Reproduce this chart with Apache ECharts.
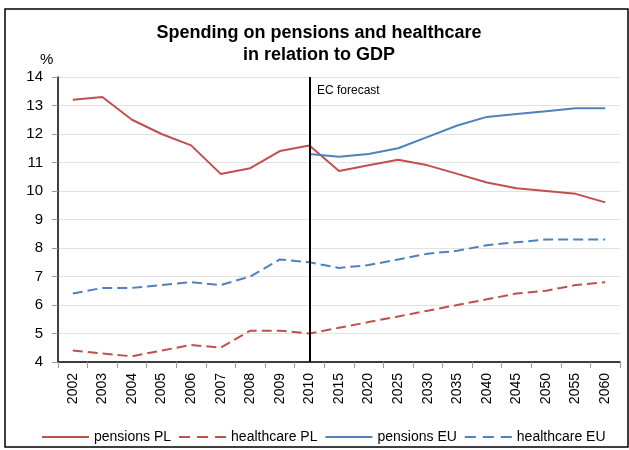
<!DOCTYPE html>
<html>
<head>
<meta charset="utf-8">
<script src="https://cdn.jsdelivr.net/npm/echarts@6/dist/echarts.min.js"></script>
<style>
  html, body { margin: 0; padding: 0; background: #fff; }
  #chart { width: 629px; height: 450px; }
</style>
</head>
<body>
<div id="chart"></div>
<script>
// Years on the category axis (annual to 2010, then five-year forecast steps)
const years = ['2002','2003','2004','2005','2006','2007','2008','2009','2010',
               '2015','2020','2025','2030','2035','2040','2045','2050','2055','2060'];

// Spending as % of GDP
const pensionsPL   = [13.2, 13.3, 12.5, 12.0, 11.6, 10.6, 10.8, 11.4, 11.6,
                      10.7, 10.9, 11.1, 10.9, 10.6, 10.3, 10.1, 10.0, 9.9, 9.6];
const healthcarePL = [4.4, 4.3, 4.2, 4.4, 4.6, 4.5, 5.1, 5.1, 5.0,
                      5.2, 5.4, 5.6, 5.8, 6.0, 6.2, 6.4, 6.5, 6.7, 6.8];
const pensionsEU   = [null, null, null, null, null, null, null, null, 11.3,
                      11.2, 11.3, 11.5, 11.9, 12.3, 12.6, 12.7, 12.8, 12.9, 12.9];
const healthcareEU = [6.4, 6.6, 6.6, 6.7, 6.8, 6.7, 7.0, 7.6, 7.5,
                      7.3, 7.4, 7.6, 7.8, 7.9, 8.1, 8.2, 8.3, 8.3, 8.3];

const yTicks = { min: 4, max: 14, interval: 1 };
const forecastStart = '2010';

const RED = '#C0504D';
const BLUE = '#4F81BD';
const FONT = '"Liberation Sans", Arial, sans-serif';

function lineSeries(name, data, color, dashed, extra) {
  return Object.assign({
    name: name,
    type: 'line',
    data: data,
    symbol: 'none',
    showSymbol: false,
    connectNulls: false,
    animation: false,
    lineStyle: { color: color, width: 2, type: dashed ? [10, 5] : 'solid' },
    itemStyle: { color: color }
  }, extra || {});
}

const chart = echarts.init(document.getElementById('chart'), null, { renderer: 'canvas' });

chart.setOption({
  backgroundColor: '#fff',
  animation: false,
  title: {
    text: 'Spending on pensions and healthcare\nin relation to GDP',
    left: 319,
    textAlign: 'center',
    top: 22,
    padding: 0,
    textStyle: { fontFamily: FONT, fontSize: 18, fontWeight: 'bold', color: '#000', lineHeight: 22 }
  },
  grid: { left: 58, right: 9, top: 77, bottom: 88, containLabel: false },
  xAxis: {
    type: 'category',
    data: years,
    boundaryGap: true,
    axisLine: { lineStyle: { color: '#000', width: 1.5 } },
    axisTick: { show: true, length: 6, lineStyle: { color: '#999' } },
    axisLabel: { rotate: 90, margin: 11, fontFamily: FONT, fontSize: 14, color: '#000', interval: 0 },
    splitLine: { show: false }
  },
  yAxis: {
    type: 'value',
    min: yTicks.min,
    max: yTicks.max,
    interval: yTicks.interval,
    axisLine: { show: true, lineStyle: { color: '#000', width: 1.5 } },
    axisTick: { show: true, length: 6, lineStyle: { color: '#999' } },
    axisLabel: { margin: 15, fontFamily: FONT, fontSize: 15, color: '#000' },
    splitLine: { show: true, lineStyle: { color: '#e2e2e2', width: 1 } }
  },
  legend: {
    bottom: 6,
    left: 41,
    itemWidth: 47,
    itemHeight: 12,
    itemGap: 7,
    padding: 0,
    itemStyle: { opacity: 0, borderWidth: 0 },
    textStyle: { fontFamily: FONT, fontSize: 14, color: '#000' },
    data: [
      { name: 'pensions PL' },
      { name: 'healthcare PL', lineStyle: { type: [11, 7] } },
      { name: 'pensions EU' },
      { name: 'healthcare EU', lineStyle: { type: [11, 7] } }
    ]
  },
  series: [
    lineSeries('pensions PL', pensionsPL, RED, false, {
      markLine: {
        silent: true,
        symbol: 'none',
        animation: false,
        lineStyle: { color: '#000', width: 2, type: 'solid' },
        label: { show: false },
        data: [{ xAxis: forecastStart }]
      }
    }),
    lineSeries('healthcare PL', healthcarePL, RED, true),
    lineSeries('pensions EU', pensionsEU, BLUE, false),
    lineSeries('healthcare EU', healthcareEU, BLUE, true)
  ],
  graphic: [
    {
      type: 'rect',
      shape: { x: 5, y: 9, width: 623, height: 438 },
      style: { fill: null, stroke: '#000', lineWidth: 1.5 },
      silent: true,
      z: 100
    },
    {
      type: 'text',
      left: 40,
      top: 52,
      style: { text: '%', font: '15px ' + FONT, fill: '#000' }
    },
    {
      type: 'text',
      left: 317,
      top: 85,
      style: { text: 'EC forecast', font: '12px ' + FONT, fill: '#000' }
    }
  ]
});
</script>
</body>
</html>
